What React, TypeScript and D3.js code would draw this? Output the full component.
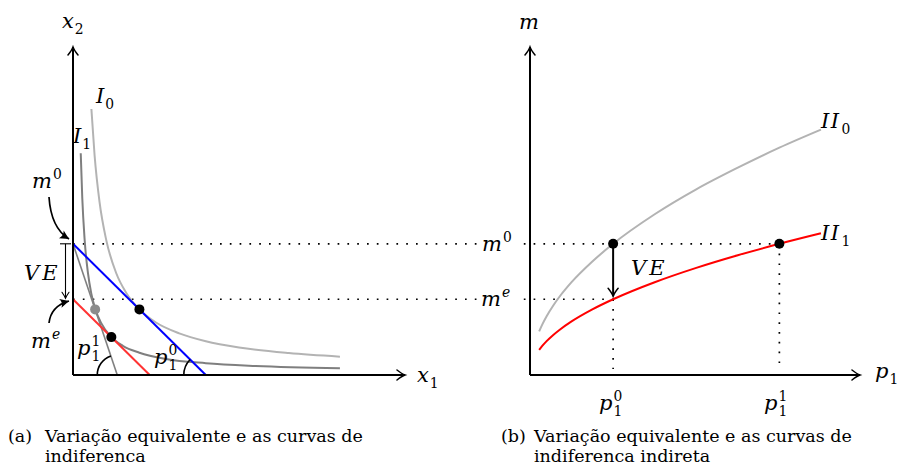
import React from "react";
import * as d3 from "d3";

// Incomes: m^0 and the equivalent income m^e
const incomeM0 = 4;
const incomeMe = 2.31;
// Prices of good 1 before (p1^0) and after (p1^1) the change; price of good 2
const pricesP1 = [1, 3];
const priceP2 = 1;

// Chosen bundles (x1, x2)
const bundleOriginal: [number, number] = [2, 2];
const bundleNewPrice: [number, number] = [0.667, 2];
const bundleEquivalent: [number, number] = [1.155, 1.155];

// Indifference curve I0
const i0X = [0.554, 0.65, 0.8, 1.0, 1.3, 1.6, 2.0, 2.5, 3.2, 4.0, 5.0, 6.5, 8.04];
const i0Y = [8.11, 6.7, 5.27, 4.12, 3.11, 2.51, 2.0, 1.6, 1.27, 1.03, 0.84, 0.67, 0.56];
// Indifference curve I1
const i1X = [0.233, 0.28, 0.35, 0.45, 0.55, 0.667, 0.85, 1.155, 1.5, 2.0, 2.8, 4.0, 5.5, 8.04];
const i1Y = [6.76, 5.38, 4.13, 3.11, 2.49, 2.03, 1.58, 1.155, 0.89, 0.68, 0.49, 0.36, 0.275, 0.204];

// Indirect indifference curves m(p1)
const pGrid = [0.11, 0.15, 0.2, 0.28, 0.35, 0.5, 0.75, 1, 1.5, 2, 2.5, 3, 3.5];
const ii0M = [1.33, 1.55, 1.79, 2.12, 2.37, 2.83, 3.46, 4.0, 4.9, 5.66, 6.32, 6.93, 7.48];
const ii1M = [0.766, 0.894, 1.033, 1.222, 1.366, 1.633, 2.0, 2.309, 2.828, 3.266, 3.651, 4.0, 4.32];

const W = 898;
const H = 466;

const xL = d3.scaleLinear().domain([0, 10]).range([73, 405]);
const xR = d3.scaleLinear().domain([0, 3.97]).range([530, 860]);
const yS = d3.scaleLinear().domain([0, 10]).range([375, 47]);

const MATH = "'DejaVu Serif', serif";
const TEXT = "'DejaVu Serif', serif";

type MathProps = {
  x: number;
  y: number;
  base: string;
  sub?: string;
  sup?: string;
  size?: number;
  spacing?: number;
  bg?: boolean;
};

// Italic symbol with optional upright sub/superscript stacked at the same x
function MathLabel({ x, y, base, sub, sup, size = 21, spacing = 0, bg }: MathProps) {
  const small = size * 0.66;
  const digitW = small * 0.64;
  const supDy = -size * 0.45;
  const subDy = size * 0.3;
  const supItalic = sup !== undefined && /[a-z]/i.test(sup);
  return (
    <g>
      {bg && <rect x={x - 4} y={y - size * 1.05} width={size * 2.1} height={size * 1.35} fill="#fff" />}
      <text x={x} y={y} fontFamily={MATH} fontSize={size} letterSpacing={spacing}>
        <tspan fontStyle="italic">{base}</tspan>
        {sup && (
          <tspan fontSize={small} dy={supDy} dx={1} fontStyle={supItalic ? "italic" : "normal"}>
            {sup}
          </tspan>
        )}
        {sub && (
          <tspan fontSize={small} dy={sup ? subDy - supDy : subDy} dx={sup ? -digitW : 1} fontStyle="normal">
            {sub}
          </tspan>
        )}
      </text>
    </g>
  );
}

function angleArc(cx: number, cy: number, r: number, tipX: number, tipY: number) {
  const dx = tipX - cx;
  const dy = tipY - cy;
  const len = Math.hypot(dx, dy);
  const ex = cx + (dx / len) * r;
  const ey = cy + (dy / len) * r;
  return `M ${cx - r} ${cy} A ${r} ${r} 0 0 1 ${ex} ${ey}`;
}

export default function App() {
  const curveLine = d3
    .line<[number, number]>()
    .x((d) => xL(d[0]))
    .y((d) => yS(d[1]))
    .curve(d3.curveMonotoneX);
  const curveRight = d3
    .line<[number, number]>()
    .x((d) => xR(d[0]))
    .y((d) => yS(d[1]))
    .curve(d3.curveMonotoneX);

  const i0 = i0X.map((v, i) => [v, i0Y[i]] as [number, number]);
  const i1 = i1X.map((v, i) => [v, i1Y[i]] as [number, number]);
  const ii0 = pGrid.map((p, i) => [p, ii0M[i]] as [number, number]);
  const ii1 = pGrid.map((p, i) => [p, ii1M[i]] as [number, number]);

  const [p0, p1] = pricesP1;
  // Budget line intercepts
  const blue = { x: incomeM0 / p0, y: incomeM0 / priceP2 };
  const steep = { x: incomeM0 / p1, y: incomeM0 / priceP2 };
  const red = { x: incomeMe / p0, y: incomeMe / priceP2 };

  const yM0 = yS(incomeM0);
  const yMe = yS(incomeMe);
  const x0 = xL(0);
  const y0 = yS(0);

  const dotted = { stroke: "#000", strokeWidth: 1.7, strokeDasharray: "1.7 8.1", fill: "none" };

  return (
    <svg
      width={W}
      height={H}
      viewBox={`0 0 ${W} ${H}`}
      style={{ position: "absolute", left: 0, top: 0, background: "#fff" }}
    >
      <defs>
        <marker id="axArrow" markerUnits="userSpaceOnUse" markerWidth={14} markerHeight={12} refX={0} refY={0} viewBox="-10 -6 12 12" orient="auto">
          <path d="M -8 -5 Q -3 -1 0 0 Q -3 1 -8 5" fill="none" stroke="#000" strokeWidth={1.5} strokeLinecap="round" />
        </marker>
        <marker id="thinArrow" markerUnits="userSpaceOnUse" markerWidth={12} markerHeight={10} refX={0} refY={0} viewBox="-8 -5 10 10" orient="auto">
          <path d="M -6 -3.5 Q -2 -0.8 0 0 Q -2 0.8 -6 3.5" fill="none" stroke="#000" strokeWidth={1.1} strokeLinecap="round" />
        </marker>
        <marker id="fillArrow" markerUnits="userSpaceOnUse" markerWidth={14} markerHeight={12} refX={0} refY={0} viewBox="-10 -6 12 12" orient="auto">
          <path d="M -9 -4.5 L 0 0 L -9 4.5 Q -6 0 -9 -4.5 Z" fill="#000" />
        </marker>
      </defs>

      {/* ---------- Left panel ---------- */}
      {/* dotted income levels, running across into the right panel */}
      <line x1={x0} x2={xR(p1)} y1={yM0} y2={yM0} {...dotted} />
      <line x1={x0} x2={xR(p0)} y1={yMe} y2={yMe} {...dotted} />

      {/* indifference curves */}
      <path d={curveLine(i0) ?? ""} fill="none" stroke="#b3b3b3" strokeWidth={2} />
      <path d={curveLine(i1) ?? ""} fill="none" stroke="#7f7f7f" strokeWidth={2} />

      {/* budget lines */}
      <line x1={xL(0)} y1={yS(steep.y)} x2={xL(steep.x)} y2={yS(0)} stroke="#808080" strokeWidth={1.6} />
      <line x1={xL(0)} y1={yS(blue.y)} x2={xL(blue.x)} y2={yS(0)} stroke="#0000ff" strokeWidth={2} />
      <line x1={xL(0)} y1={yS(red.y)} x2={xL(red.x)} y2={yS(0)} stroke="#ff3333" strokeWidth={2} />

      {/* angle marks of the budget lines */}
      <path d={angleArc(xL(steep.x), y0, 20, xL(0), yS(steep.y))} fill="none" stroke="#000" strokeWidth={1.6} />
      <path d={angleArc(xL(blue.x), y0, 22, xL(0), yS(blue.y))} fill="none" stroke="#000" strokeWidth={1.6} />

      {/* axes */}
      <line x1={x0} y1={y0} x2={x0} y2={yS(10)} stroke="#000" strokeWidth={2} markerEnd="url(#axArrow)" />
      <line x1={x0} y1={y0} x2={xL(10)} y2={y0} stroke="#000" strokeWidth={2} markerEnd="url(#axArrow)" />

      {/* chosen bundles */}
      <circle cx={xL(bundleNewPrice[0])} cy={yS(bundleNewPrice[1])} r={5} fill="#8c8c8c" />
      <circle cx={xL(bundleOriginal[0])} cy={yS(bundleOriginal[1])} r={5} fill="#000" />
      <circle cx={xL(bundleEquivalent[0])} cy={yS(bundleEquivalent[1])} r={5} fill="#000" />

      {/* VE bracket on the x2 axis */}
      <line x1={60} x2={71} y1={yM0} y2={yM0} stroke="#000" strokeWidth={1.1} />
      <line x1={65.5} x2={65.5} y1={yM0} y2={yMe - 1} stroke="#000" strokeWidth={1.1} markerEnd="url(#thinArrow)" />

      {/* pointers to m^0 and m^e */}
      <path d={`M 49 197 Q 51 228 69 239`} fill="none" stroke="#000" strokeWidth={1.7} markerEnd="url(#fillArrow)" />
      <path d={`M 49 323 Q 51 306 69 301`} fill="none" stroke="#000" strokeWidth={1.7} markerEnd="url(#fillArrow)" />

      {/* labels */}
      <MathLabel x={62} y={28} base="x" sub="2" />
      <MathLabel x={417} y={382} base="x" sub="1" />
      <MathLabel x={96} y={103} base="I" sub="0" />
      <MathLabel x={73} y={143} base="I" sub="1" />
      <MathLabel x={32} y={188} base="m" sup="0" />
      <MathLabel x={24} y={280} base="VE" spacing={3} />
      <MathLabel x={31} y={348} base="m" sup="e" />
      <MathLabel x={77} y={355} base="p" sup="1" sub="1" />
      <MathLabel x={154} y={364} base="p" sup="0" sub="1" />

      {/* ---------- Right panel ---------- */}
      <line x1={xR(p0)} x2={xR(p0)} y1={yMe} y2={y0 - 6} {...dotted} />
      <line x1={xR(p1)} x2={xR(p1)} y1={yM0} y2={y0 - 6} {...dotted} />

      <path d={curveRight(ii0) ?? ""} fill="none" stroke="#b3b3b3" strokeWidth={2} />
      <path d={curveRight(ii1) ?? ""} fill="none" stroke="#ff0000" strokeWidth={2} />

      <line x1={xR(0)} y1={y0} x2={xR(0)} y2={yS(10)} stroke="#000" strokeWidth={2} markerEnd="url(#axArrow)" />
      <line x1={xR(0)} y1={y0} x2={xR(3.97)} y2={y0} stroke="#000" strokeWidth={2} markerEnd="url(#axArrow)" />

      {/* equivalent variation at p1^0 */}
      <line x1={xR(p0)} x2={xR(p0)} y1={yM0} y2={yMe - 3} stroke="#000" strokeWidth={2} markerEnd="url(#axArrow)" />
      <circle cx={xR(p0)} cy={yM0} r={5} fill="#000" />
      <circle cx={xR(p1)} cy={yM0} r={5} fill="#000" />

      <MathLabel x={482} y={251} base="m" sup="0" bg />
      <MathLabel x={481} y={306} base="m" sup="e" bg />
      <MathLabel x={519} y={29} base="m" />
      <MathLabel x={875} y={378} base="p" sub="1" />
      <MathLabel x={821} y={128} base="II" sub="0" spacing={1.5} />
      <MathLabel x={821} y={240} base="II" sub="1" spacing={1.5} />
      <MathLabel x={631} y={275} base="VE" spacing={3} />
      <MathLabel x={599} y={410} base="p" sup="0" sub="1" />
      <MathLabel x={764} y={410} base="p" sup="1" sub="1" />

      {/* ---------- Captions ---------- */}
      <g fontFamily={TEXT} fontSize={17.5} fill="#000">
        <text x={8} y={442}>(a)</text>
        <text x={45} y={442}>Variação equivalente e as curvas de</text>
        <text x={45} y={462}>indiferenca</text>
        <text x={501} y={442}>(b)</text>
        <text x={534} y={442}>Variação equivalente e as curvas de</text>
        <text x={534} y={462}>indiferenca indireta</text>
      </g>
    </svg>
  );
}
